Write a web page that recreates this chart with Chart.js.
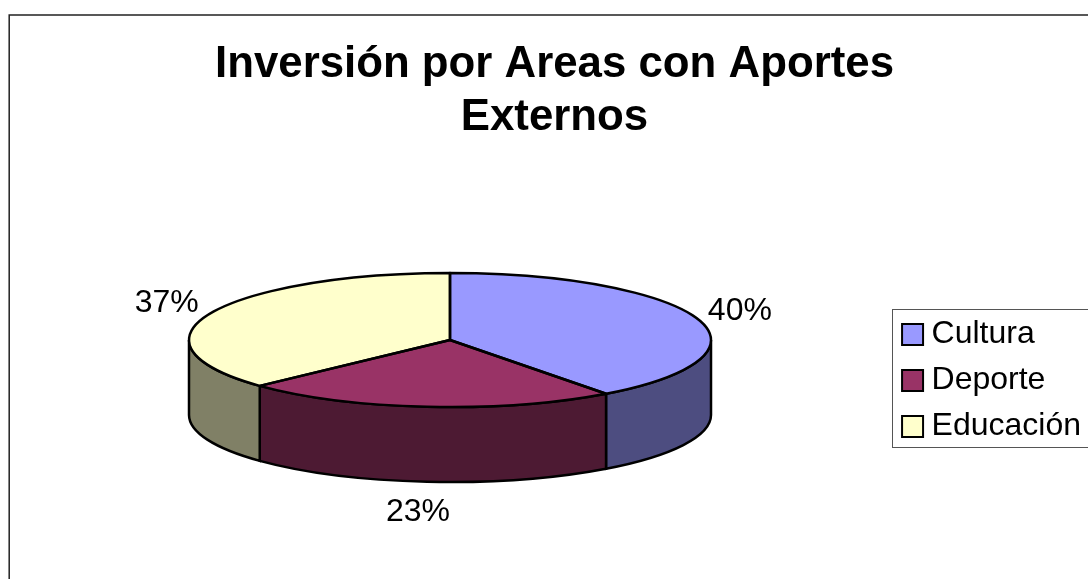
<!DOCTYPE html>
<html>
<head>
<meta charset="utf-8">
<title>Inversión por Areas con Aportes Externos</title>
<script src="https://cdn.jsdelivr.net/npm/chart.js@4"></script>
<style>
    html, body { margin: 0; padding: 0; background: #fff; overflow: hidden; }
    canvas { display: block; }
</style>
</head>
<body>
<canvas id="pieChart" width="1088" height="579"></canvas>
<script>
// Data
const titleLines = ['Inversión por Areas con Aportes', 'Externos'];
const categories = ['Cultura', 'Deporte', 'Educación'];
const shares = [39.8, 23.2, 37];

// Colours
const topColors = ['#9999ff', '#993366', '#ffffcc'];
const sideColors = ['#4d4d80', '#4d1a33', '#808066'];

// Look of the tilted pie
const fontName = '"Liberation Sans", Arial, sans-serif';
const pie = { x: 450, y: 340, rx: 261, ry: 67, depth: 75 };
const labelGap = { x: 46, above: 95, below: 97, nudgeX: -1.5, nudgeY: 1, belowX: -3.5 };
const outline = 2.5;

// Draws the pie side wall, squashes the library arcs and outlines them
const tiltedPie = {
    id: 'tiltedPie',
    beforeDraw(chart) {
        // outer frame, runs off the right and bottom edges
        const ctx = chart.ctx;
        ctx.save();
        ctx.strokeStyle = '#222';
        ctx.lineWidth = 1.5;
        ctx.beginPath();
        ctx.moveTo(9.2, 579);
        ctx.lineTo(9.2, 15);
        ctx.lineTo(1088, 15);
        ctx.stroke();
        ctx.restore();
    },
    beforeDatasetDraw(chart) {
        const ctx = chart.ctx;
        const arcs = chart.getDatasetMeta(0).data;

        ctx.save();
        ctx.lineWidth = outline;
        ctx.strokeStyle = '#000';
        arcs.forEach((arc, i) => {
            // only the front half of the wall is visible
            const from = Math.max(arc.startAngle, 0);
            const to = Math.min(arc.endAngle, Math.PI);
            if (from >= to) return;
            ctx.beginPath();
            ctx.ellipse(pie.x, pie.y, pie.rx, pie.ry, 0, from, to);
            ctx.ellipse(pie.x, pie.y + pie.depth, pie.rx, pie.ry, 0, to, from, true);
            ctx.closePath();
            ctx.fillStyle = sideColors[i];
            ctx.fill();
            ctx.stroke();
        });
        ctx.restore();

        const first = arcs[0];
        ctx.save();
        ctx.translate(pie.x, pie.y);
        ctx.scale(pie.rx / first.outerRadius, pie.ry / first.outerRadius);
        ctx.translate(-first.x, -first.y);
    },
    afterDatasetDraw(chart) {
        const ctx = chart.ctx;
        const arcs = chart.getDatasetMeta(0).data;
        ctx.restore();

        ctx.save();
        ctx.lineWidth = outline;
        ctx.strokeStyle = '#000';
        ctx.lineJoin = 'round';
        arcs.forEach(arc => {
            ctx.beginPath();
            ctx.moveTo(pie.x, pie.y);
            ctx.ellipse(pie.x, pie.y, pie.rx, pie.ry, 0, arc.startAngle, arc.endAngle);
            ctx.closePath();
            ctx.stroke();
        });

        // percentage labels, placed around the ellipse
        ctx.fillStyle = '#000';
        ctx.font = '32px ' + fontName;
        ctx.textAlign = 'center';
        ctx.textBaseline = 'middle';
        arcs.forEach((arc, i) => {
            const mid = (arc.startAngle + arc.endAngle) / 2;
            const sin = Math.sin(mid);
            const below = sin > 0;
            const x = pie.x + (pie.rx + labelGap.x) * Math.cos(mid) + labelGap.nudgeX + (below ? labelGap.belowX : 0);
            const y = pie.y + labelGap.nudgeY + (below ? labelGap.below * sin + pie.depth : labelGap.above * sin);
            ctx.fillText(Math.round(shares[i]) + '%', x, y);
        });
        ctx.restore();
    },
    afterDraw(chart) {
        // legend frame and swatches, the library lays out the rows
        const ctx = chart.ctx;
        const boxes = chart.legend.legendHitBoxes;
        const last = boxes[boxes.length - 1];
        const swatch = 21;
        const swatchLeft = boxes[0].left - 1;
        ctx.save();
        ctx.strokeStyle = '#555';
        ctx.lineWidth = 1;
        const boxLeft = Math.round(swatchLeft) - 9.5;
        const boxTop = Math.round(boxes[0].top + boxes[0].height / 2) - 24.5;
        const boxBottom = Math.round(last.top + last.height / 2) + 21.5;
        ctx.strokeRect(boxLeft, boxTop, 1100 - boxLeft, boxBottom - boxTop);
        boxes.forEach((box, i) => {
            const top = Math.round(box.top + box.height / 2 - swatch / 2);
            ctx.fillStyle = topColors[i];
            ctx.strokeStyle = '#000';
            ctx.lineWidth = 2;
            ctx.fillRect(swatchLeft, top, swatch, swatch);
            ctx.strokeRect(swatchLeft, top, swatch, swatch);
        });
        ctx.restore();
    }
};

const ctx = document.getElementById('pieChart').getContext('2d');
const pieChart = new Chart(ctx, {
    type: 'pie',
    data: {
        labels: categories,
        datasets: [{
            data: shares,
            backgroundColor: topColors,
            borderWidth: 0
        }]
    },
    options: {
        responsive: false,
        animation: false,
        layout: { padding: { left: 18, right: -3, bottom: 123 } },
        plugins: {
            tooltip: { enabled: false },
            title: {
                display: true,
                text: titleLines,
                color: '#000',
                font: { family: fontName, size: 43.8, weight: 'bold', lineHeight: 1.22 },
                padding: { top: 38, bottom: 34 }
            },
            legend: {
                position: 'right',
                align: 'end',
                labels: {
                    color: '#000',
                    font: { family: fontName, size: 32 },
                    boxWidth: 12.5,
                    padding: 14,
                    generateLabels: c => c.data.labels.map((text, index) => ({
                        text,
                        index,
                        fillStyle: 'transparent',
                        strokeStyle: 'transparent',
                        lineWidth: 0
                    }))
                }
            }
        }
    },
    plugins: [tiltedPie]
});
</script>
</body>
</html>
